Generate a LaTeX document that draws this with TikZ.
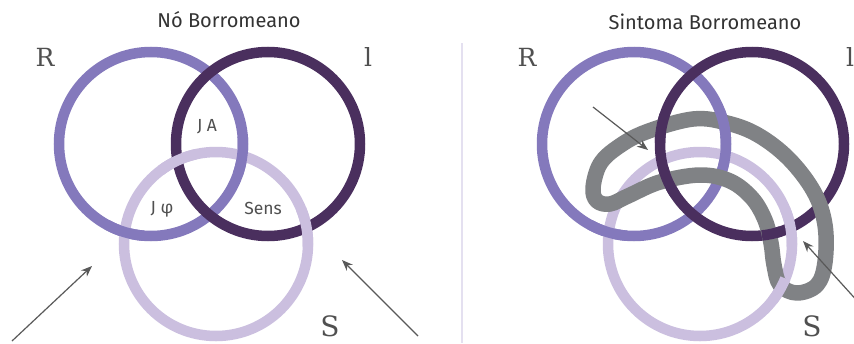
\documentclass[tikz,border=0pt]{standalone}
\usepackage{fontspec}
\newfontfamily\labfont{Fira Sans}
\newfontfamily\serfont{DejaVu Serif}
\usetikzlibrary{arrows.meta}
\definecolor{rcol}{HTML}{8479BC}
\definecolor{icol}{HTML}{4A2F5E}
\definecolor{scol}{HTML}{CBBFDF}
\definecolor{gcol}{HTML}{808285}
\definecolor{acol}{HTML}{595959}
\definecolor{tcol}{HTML}{505050}
\definecolor{divcol}{HTML}{E4E0F0}
% ring patch: colour, cx, cy, angle, half span
\newcommand\ringpatch[5]{\draw[ring,#1] ([shift={(#4-#5:92)}]#2,#3) arc[start angle=#4-#5, end angle=#4+#5, radius=92];}
\begin{document}
\begin{tikzpicture}[x=1pt,y=-1pt,
  ring/.style={line width=10.5pt},
  knotband/.style={line width=15.5pt, gcol, line join=round},
  arr/.style={acol, line width=1.2pt, -{Stealth[length=11pt,width=8.5pt]}},
  title/.style={font=\labfont\fontsize{20}{22}\selectfont, text=black!80},
  inlab/.style={font=\labfont\fontsize{17.5}{19}\selectfont, text=tcol},
  biglab/.style={font=\serfont\fontsize{25}{27}\selectfont, text=tcol},
  slab/.style={font=\serfont\fontsize{28}{30}\selectfont, text=tcol}]
\useasboundingbox (0,0) rectangle (854,343);
\fill[white] (0,0) rectangle (854,343);
% divider
\draw[divcol, line width=2pt] (462,43) -- (462,343);

% ---------- left: Borromean knot ----------
\draw[ring,rcol] (151,144) circle[radius=92];
\draw[ring,scol] (216,244) circle[radius=92];
\draw[ring,icol] (268,144) circle[radius=92];
\ringpatch{rcol}{151}{144}{106.6}{12}
\ringpatch{rcol}{151}{144}{7.4}{12}
\ringpatch{scol}{216}{244}{245.2}{12}
\ringpatch{scol}{216}{244}{-10.3}{12}

\node[title] (t1) at (229,20) {Nó Borromeano};
\node[biglab] (lR) at (45,57) {R};
\node[biglab] (lI) at (368,57) {l};
\node[slab] (lS) at (330,326) {S};
\node[inlab] (ja) at (207,127) {J A};
\node[inlab] (jphi) at (162,209) {J φ};
\node[inlab] (sens) at (263,208) {Sens};

\coordinate (a1s) at (12,341);
\coordinate (a1e) at (92,266);
\coordinate (a2s) at (418,336);
\coordinate (a2e) at (342,260);
\draw[arr] (a1s) -- (a1e);
\draw[arr] (a2s) -- (a2e);

% ---------- right: Sintoma ----------
\draw[ring,rcol] (634,144) circle[radius=92];
\draw[ring,scol] (700,244) circle[radius=92];
\draw[ring,icol] (752,144) circle[radius=92];
\ringpatch{rcol}{634}{144}{106.6}{12}
\ringpatch{rcol}{634}{144}{7.4}{12}
\ringpatch{scol}{700}{244}{-10.3}{12}

\draw[knotband] plot[smooth cycle, tension=0.6] coordinates {
 (593,188) (600,164) (618,147) (646,132) (693,119) (727,123) (758,135)
 (789,159) (814,192) (825,225) (825,262) (817,285) (797,293) (780,285)
 (774,265) (771,243) (765,220) (752,198) (730,181) (700,175) (660,182)
 (628,196) (610,204) (597,201)};

\ringpatch{icol}{752}{144}{189.6}{9}
\ringpatch{icol}{752}{144}{155.9}{9}
\ringpatch{icol}{752}{144}{77.8}{6}
\ringpatch{rcol}{634}{144}{-12.5}{9}
\ringpatch{scol}{700}{244}{30}{8}

\node[title] (t2) at (705,22) {Sintoma Borromeano};
\node[biglab] (rR) at (527,57) {R};
\node[biglab] (rI) at (850,57) {l};
\node[slab] (rS) at (812,326) {S};

\coordinate (b1s) at (593,107);
\coordinate (b1e) at (648,150);
\coordinate (b2s) at (860,304);
\coordinate (b2e) at (803,241);
\draw[arr] (b1s) -- (b1e);
\draw[arr] (b2s) -- (b2e);
\end{tikzpicture}
\end{document}
